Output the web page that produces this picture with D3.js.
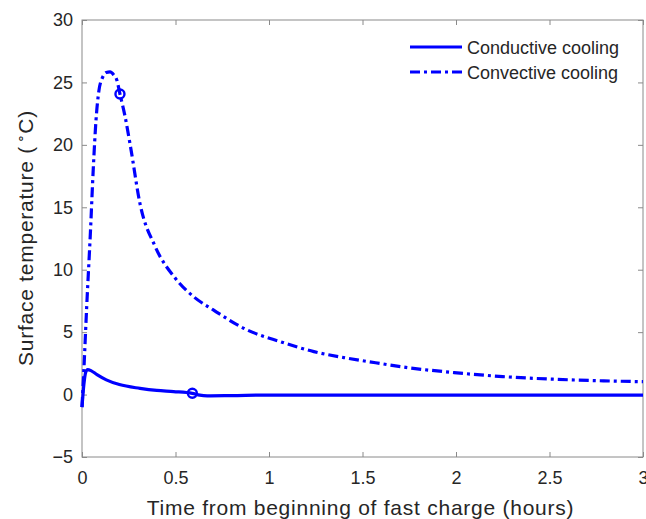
<!DOCTYPE html>
<html>
<head>
<meta charset="utf-8">
<script src="https://cdn.jsdelivr.net/npm/d3@7"></script>
<style>
  body { margin: 0; background: #fff; }
  text { font-family: "Liberation Sans", Arial, sans-serif; fill: #262626; }
</style>
</head>
<body>
<script>
// chart size
var width = 646;
var height = 519;

// readings (hours, degC)
var conductiveT = [0, 0.01, 0.02, 0.03, 0.05, 0.08, 0.13, 0.2, 0.31, 0.4, 0.49, 0.59, 0.63, 0.67, 0.8, 1.0, 1.17, 1.5, 2.0, 2.5, 3.0];
var conductiveV = [-1, 0.8, 1.8, 2.0, 1.9, 1.6, 1.18, 0.8, 0.5, 0.33, 0.24, 0.1, -0.05, -0.1, -0.08, -0.04, -0.05, -0.05, -0.05, -0.05, -0.05];

var convectiveT = [0, 0.01, 0.025, 0.045, 0.06, 0.075, 0.09, 0.11, 0.13, 0.15, 0.17, 0.186, 0.203, 0.23, 0.26, 0.31, 0.39, 0.5, 0.6, 0.7, 0.88, 1.06, 1.24, 1.42, 1.57, 1.72, 1.99, 2.25, 2.52, 2.79, 3.0];
var convectiveV = [-1, 2, 7, 13, 18, 22, 24.3, 25.4, 25.8, 25.85, 25.6, 25.2, 24.07, 22.3, 19.8, 15.3, 11.9, 9.3, 7.8, 6.8, 5.2, 4.24, 3.44, 2.91, 2.55, 2.2, 1.76, 1.44, 1.23, 1.1, 1.03];

// circle markers
var markerT = [0.59, 0.203];
var markerV = [0.1, 24.07];

var xTicks = [0, 0.5, 1, 1.5, 2, 2.5, 3];
var yTicks = [-5, 0, 5, 10, 15, 20, 25, 30];
var legendNames = ["Conductive cooling", "Convective cooling"];

// plot box (named to avoid window.top)
var plotL = 82, plotR = 643, plotT = 20, plotB = 457;

var svg = d3.select('body').append('svg')
  .attr('width', width)
  .attr('height', height);

var x = d3.scaleLinear().domain([0, 3]).range([plotL, plotR]);
var y = d3.scaleLinear().domain([-5, 30]).range([plotB, plotT]);

var axisColor = '#8a8a8a';

// box
svg.append('rect')
  .attr('x', plotL).attr('y', plotT)
  .attr('width', plotR - plotL).attr('height', plotB - plotT)
  .attr('fill', 'none').attr('stroke', axisColor).attr('stroke-width', 1);

// ticks (inside, on all four sides)
function styleAxis(g) {
  g.select('.domain').remove();
  g.selectAll('line').attr('stroke', axisColor);
  g.selectAll('text').attr('font-size', '18px').attr('fill', '#262626')
    .style('font-family', '"Liberation Sans", Arial, sans-serif');
}
svg.append('g').attr('transform', 'translate(0,' + plotB + ')')
  .call(d3.axisBottom(x).tickValues(xTicks).tickFormat(d3.format('')).tickSizeInner(-5).tickPadding(14))
  .call(styleAxis);
svg.append('g').attr('transform', 'translate(0,' + plotT + ')')
  .call(d3.axisTop(x).tickValues(xTicks).tickFormat('').tickSizeInner(-5))
  .call(styleAxis);
svg.append('g').attr('transform', 'translate(' + plotL + ',0)')
  .call(d3.axisLeft(y).tickValues(yTicks).tickSizeInner(-5).tickPadding(9))
  .call(styleAxis);
svg.append('g').attr('transform', 'translate(' + plotR + ',0)')
  .call(d3.axisRight(y).tickValues(yTicks).tickFormat('').tickSizeInner(-5))
  .call(styleAxis);

// lines
var line = d3.line()
  .x(function(d) { return x(d[0]); })
  .y(function(d) { return y(d[1]); })
  .curve(d3.curveMonotoneX);

var cond = d3.zip(conductiveT, conductiveV);
var conv = d3.zip(convectiveT, convectiveV);

svg.append('path').datum(cond)
  .attr('d', line)
  .attr('fill', 'none').attr('stroke', '#0000ff').attr('stroke-width', 3.2);

svg.append('path').datum(conv)
  .attr('d', line)
  .attr('fill', 'none').attr('stroke', '#0000ff').attr('stroke-width', 3.2)
  .attr('stroke-dasharray', '10,4,3,4');

svg.selectAll('circle.mk').data(d3.zip(markerT, markerV))
  .enter().append('circle')
  .attr('class', 'mk')
  .attr('cx', function(d) { return x(d[0]); })
  .attr('cy', function(d) { return y(d[1]); })
  .attr('r', 4.5)
  .attr('fill', 'none').attr('stroke', '#0000ff').attr('stroke-width', 2.4);

// legend
var legend = svg.append('g');
legendNames.forEach(function(name, i) {
  var ly = 47 + i * 25;
  legend.append('line')
    .attr('x1', 410).attr('x2', 462).attr('y1', ly).attr('y2', ly)
    .attr('stroke', '#0000ff').attr('stroke-width', 3.2)
    .attr('stroke-dasharray', i === 1 ? '10,4,3,4' : null);
  legend.append('text')
    .attr('x', 467).attr('y', ly + 6.5)
    .attr('font-size', '18px')
    .text(name);
});

// axis labels
svg.append('text')
  .attr('x', (plotL + plotR) / 2 - 2).attr('y', 515)
  .attr('text-anchor', 'middle').attr('font-size', '21px')
  .attr('letter-spacing', '0.75px')
  .text('Time from beginning of fast charge (hours)');

var yl = svg.append('text')
  .attr('transform', 'translate(33,238) rotate(-90)')
  .attr('text-anchor', 'middle').attr('font-size', '21px')
  .attr('letter-spacing', '0.75px');
yl.append('tspan').text('Surface temperature ( ');
yl.append('tspan').attr('dy', -8).attr('dx', -4).attr('font-size', '14px').text('\u2218');
yl.append('tspan').attr('dy', 8).text('C)');
</script>
</body>
</html>
